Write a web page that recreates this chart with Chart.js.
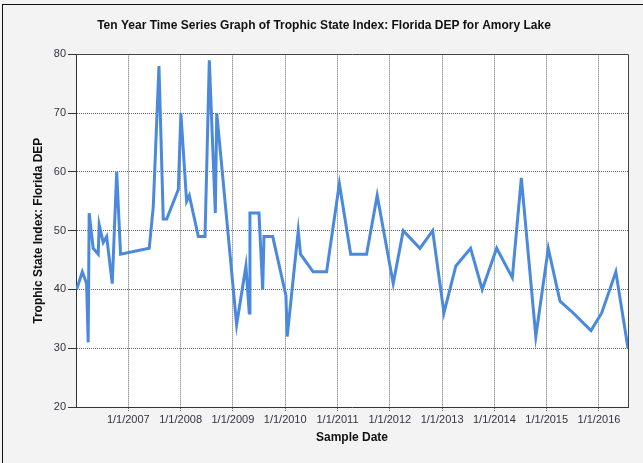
<!DOCTYPE html>
<html>
<head>
<meta charset="utf-8">
<script src="https://cdn.jsdelivr.net/npm/chart.js@4/dist/chart.umd.min.js"></script>
<style>
html, body { margin: 0; padding: 0; background: #f3f3f3; }
#wrap { position: absolute; left: 0; top: 0; width: 643px; height: 463px; }
#frame { position: absolute; left: 2px; top: 4px; width: 700px; height: 500px; border-left: 1px solid #111; border-top: 1px solid #111; pointer-events: none; }
canvas { position: absolute; left: 0; top: 0; }
</style>
</head>
<body>
<div id="wrap">
<canvas id="c" width="643" height="463"></canvas>
<div id="frame"></div>
</div>
<script>
// ---- data ----
const sampleDates = [
  '2006-01-05','2006-02-14','2006-03-16','2006-03-27','2006-04-03','2006-05-01',
  '2006-06-05','2006-06-12','2006-07-10','2006-08-03','2006-09-11','2006-10-12',
  '2006-11-08','2007-05-27','2007-06-24','2007-08-03','2007-09-02','2007-09-26',
  '2007-12-16','2008-01-03','2008-02-12','2008-03-02','2008-05-04','2008-06-20',
  '2008-07-20','2008-08-31','2008-09-10','2009-01-27','2009-04-02','2009-04-25',
  '2009-04-30','2009-07-02','2009-07-28','2009-08-06','2009-10-06','2010-01-06',
  '2010-01-15','2010-04-02','2010-04-18','2010-07-15','2010-10-17','2011-01-14',
  '2011-04-03','2011-07-23','2011-10-05','2012-01-25','2012-04-04','2012-07-30',
  '2012-10-27','2013-01-14','2013-04-07','2013-07-19','2013-10-08','2014-01-17',
  '2014-05-06','2014-07-08','2014-10-17','2015-01-12','2015-04-04','2015-07-05',
  '2015-11-06','2016-01-20','2016-04-28','2016-07-22'
];
const tsiValues = [
  40, 43, 41, 31, 53, 47,
  46, 51, 48, 49, 41, 60,
  46, 47, 54, 78, 52, 52,
  57, 70, 55, 56, 49, 49,
  79, 53, 70, 34, 44, 36,
  53, 53, 40, 49, 49, 39,
  32, 50, 46, 43, 43, 58,
  46, 46, 56, 41, 50, 47,
  50, 36, 44, 47, 40, 47,
  42, 59, 32, 47, 38, 36,
  33, 36, 43, 30
];
const tickYears = [2007, 2008, 2009, 2010, 2011, 2012, 2013, 2014, 2015, 2016];
const yTicks = [20, 30, 40, 50, 60, 70, 80];
const axisStart = '2006-01-01';
const axisEnd = '2016-07-22';
const chartTitle = 'Ten Year Time Series Graph of Trophic State Index: Florida DEP for Amory Lake';
const xTitle = 'Sample Date';
const yTitle = 'Trophic State Index: Florida DEP';

function decYear(s) {
  const [y, m, d] = s.split('-').map(Number);
  const start = Date.UTC(y, 0, 1), end = Date.UTC(y + 1, 0, 1);
  return y + (Date.UTC(y, m - 1, d) - start) / (end - start);
}

const points = sampleDates.map((d, i) => ({ x: decYear(d), y: tsiValues[i] }));

const frameBox = {
  id: 'frameBox',
  afterDraw(chart) {
    const a = chart.chartArea, ctx = chart.ctx;
    ctx.save();
    ctx.strokeStyle = '#444';
    ctx.lineWidth = 1;
    ctx.beginPath();
    ctx.moveTo(Math.round(a.left) + 0.5, Math.round(a.top) + 0.5);
    ctx.lineTo(Math.round(a.right) + 0.5, Math.round(a.top) + 0.5);
    ctx.lineTo(Math.round(a.right) + 0.5, Math.round(a.bottom) + 0.5);
    ctx.stroke();
    ctx.restore();
  },
  beforeDraw(chart) {
    const a = chart.chartArea, ctx = chart.ctx;
    ctx.save();
    ctx.fillStyle = '#ffffff';
    ctx.fillRect(a.left, a.top, a.right - a.left, a.bottom - a.top);
    ctx.restore();
  }
};

new Chart(document.getElementById('c'), {
  type: 'line',
  data: {
    datasets: [{
      data: points,
      borderColor: '#4a89dc',
      borderWidth: 3,
      pointRadius: 0,
      tension: 0,
      fill: false
    }]
  },
  options: {
    responsive: false,
    animation: false,
    devicePixelRatio: 1,
    layout: { padding: { left: 20, right: 15, top: 0, bottom: 0 } },
    plugins: {
      legend: { display: false },
      tooltip: { enabled: false },
      title: {
        display: true,
        text: chartTitle,
        color: '#111',
        font: { family: 'Liberation Sans, Arial, sans-serif', size: 12, weight: 'bold' },
        padding: { top: 18, bottom: 22 }
      }
    },
    scales: {
      x: {
        type: 'linear',
        min: decYear(axisStart),
        max: decYear(axisEnd),
        afterFit(s) { s.height = 56; },
        afterBuildTicks(s) { s.ticks = tickYears.map(v => ({ value: v })); },
        ticks: {
          callback: v => '1/1/' + v,
          color: '#333344',
          font: { family: 'Liberation Sans, Arial, sans-serif', size: 11 },
          padding: 2,
          maxRotation: 0,
          autoSkip: false
        },
        grid: { color: '#666', lineWidth: 1, tickLength: 4, tickColor: '#666', tickBorderDash: [1, 1] },
        border: { display: true, color: '#333', width: 1, dash: [1, 1] },
        title: {
          display: true, text: xTitle, color: '#111',
          font: { family: 'Liberation Sans, Arial, sans-serif', size: 12, weight: 'bold' },
          padding: { top: 0, bottom: 18 }
        }
      },
      y: {
        min: 20, max: 80,
        afterFit(s) { s.width = 56; },
        afterBuildTicks(s) { s.ticks = yTicks.map(v => ({ value: v })); },
        ticks: {
          color: '#333344',
          font: { family: 'Liberation Sans, Arial, sans-serif', size: 11 },
          padding: 2
        },
        grid: { color: '#666', lineWidth: 1, tickLength: 8, tickColor: '#333', tickBorderDash: [] },
        border: { display: true, color: '#333', width: 1, dash: [1, 1] },
        title: {
          display: true, text: yTitle, color: '#111',
          font: { family: 'Liberation Sans, Arial, sans-serif', size: 12, weight: 'bold' },
          padding: { top: 11, bottom: 0 }
        }
      }
    }
  },
  plugins: [frameBox]
});
</script>
</body>
</html>
